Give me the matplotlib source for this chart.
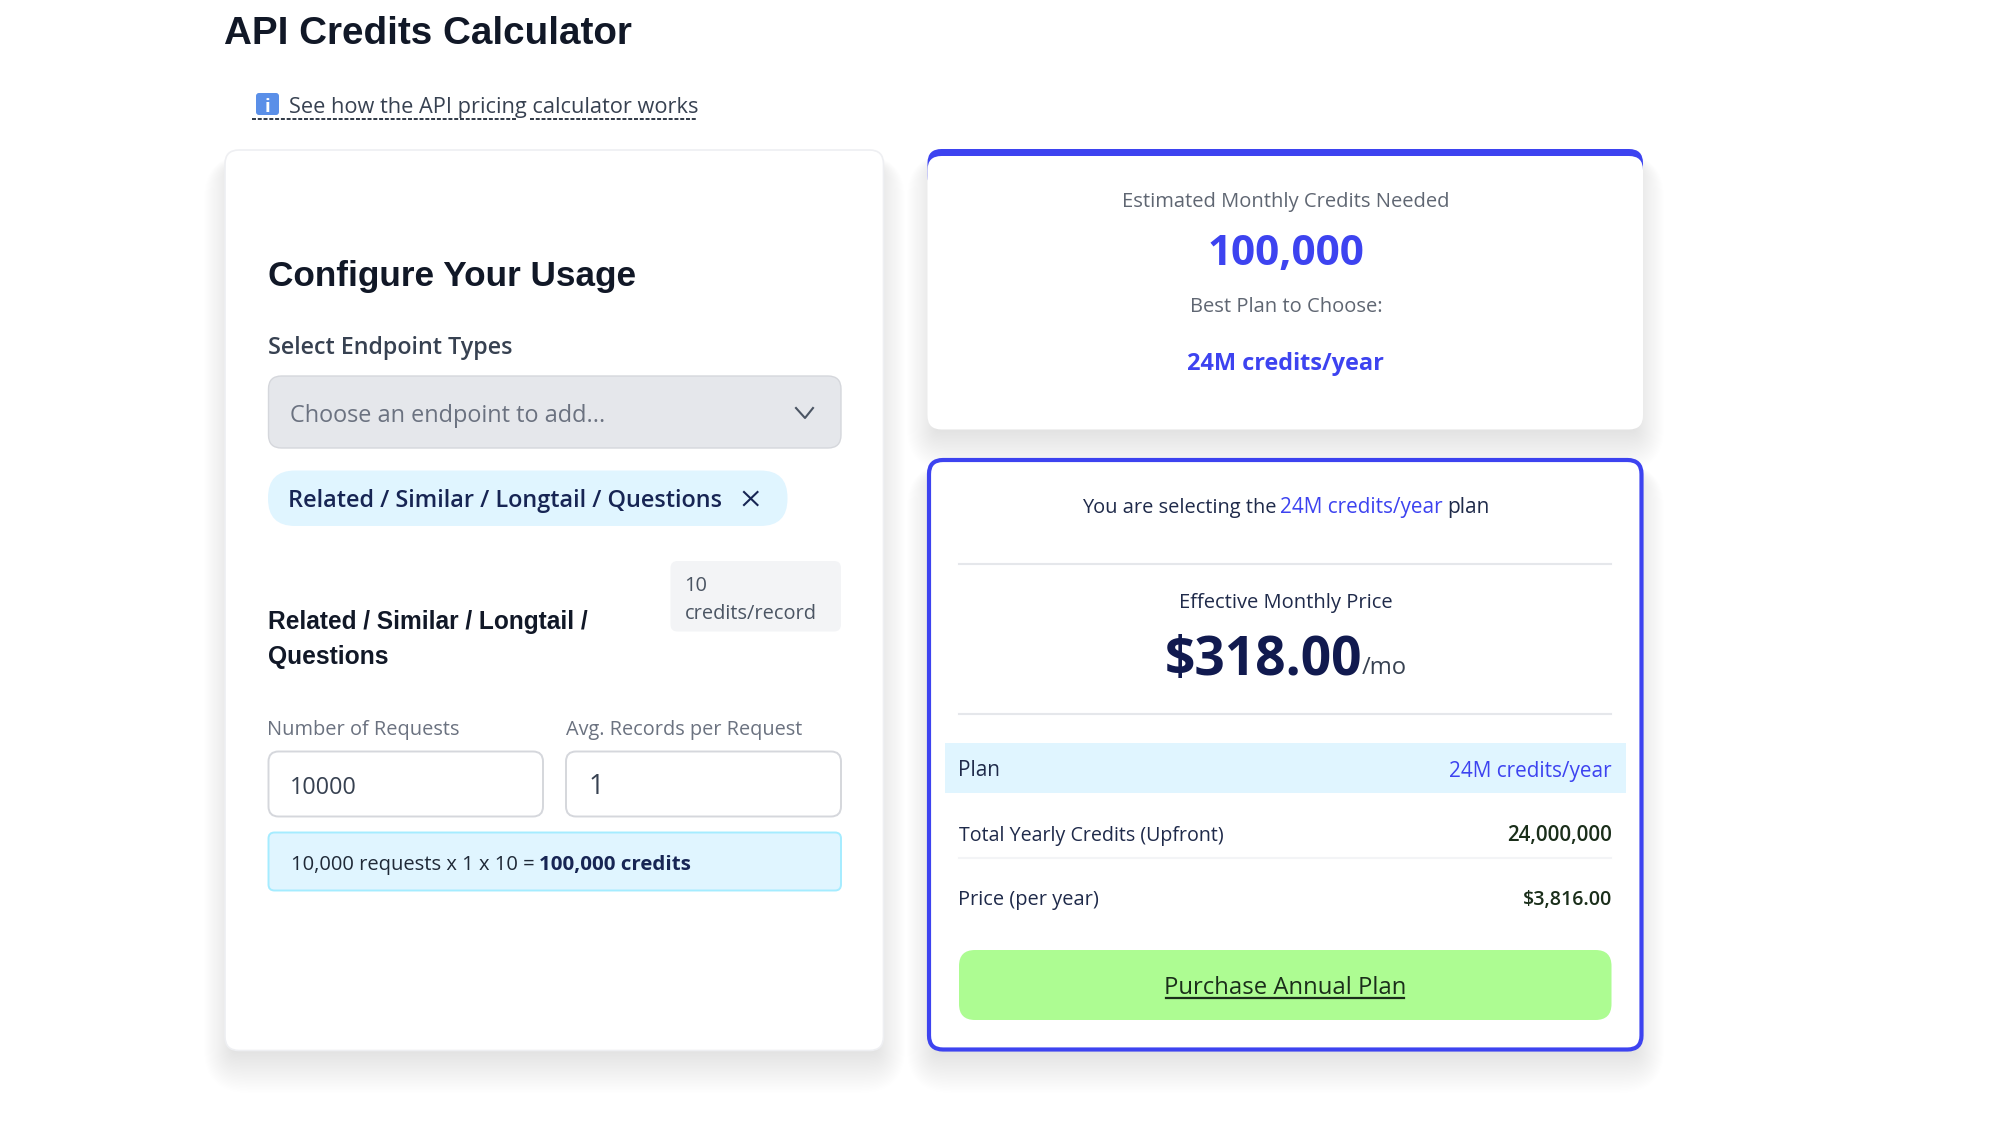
import matplotlib
matplotlib.use("Agg")
import matplotlib.pyplot as plt
from matplotlib.patches import FancyBboxPatch, Rectangle
from matplotlib.font_manager import FontProperties
from matplotlib.textpath import TextPath

# texts and values shown on the page
page_title = "API Credits Calculator"
help_link = "See how the API pricing calculator works"
config_title = "Configure Your Usage"
select_label = "Select Endpoint Types"
select_placeholder = "Choose an endpoint to add..."
endpoint_name = "Related / Similar / Longtail / Questions"
endpoint_lines = ["Related / Similar / Longtail /", "Questions"]
badge_lines = ["10", "credits/record"]
input_labels = ["Number of Requests", "Avg. Records per Request"]
input_values = ["10000", "1"]
calc_text = "10,000 requests x 1 x 10 ="
calc_result = "100,000 credits"
estimate_label = "Estimated Monthly Credits Needed"
estimate_value = "100,000"
best_label = "Best Plan to Choose:"
plan_name = "24M credits/year"
price_label = "Effective Monthly Price"
price_value = "$318.00"
price_unit = "/mo"
row_labels = ["Plan", "Total Yearly Credits (Upfront)", "Price (per year)"]
row_values = [plan_name, "24,000,000", "$3,816.00"]
button_text = "Purchase Annual Plan"

BLUE = "#3d43f0"
NAVY = "#111a4f"
SKY = "#e0f5ff"
BODY = "Open Sans"
HEAD = "Liberation Sans"

fig = plt.figure(figsize=(19.99, 11.37), dpi=100, facecolor="white")
ax = fig.add_axes([0, 0, 1, 1])
ax.set_xlim(0, 1999)
ax.set_ylim(1137, 0)
ax.axis("off")


def box(x0, y0, x1, y1, r, fc, ec="none", lw=0, alpha=None, z=2):
    p = FancyBboxPatch((x0, y0), x1 - x0, y1 - y0, boxstyle=f"round,pad=0,rounding_size={r}",
                       fc=fc, ec=ec, lw=lw, alpha=alpha, zorder=z)
    ax.add_patch(p)


def shadow(x0, y0, x1, y1):
    # soft drop shadow, stacked see-through boxes
    for i in range(30):
        grow = 30 - i * 1.5
        box(x0 - grow * 0.7, y0 + 14 - grow * 0.3, x1 + grow * 0.7, y1 + 12 + grow, 14 + grow, "#1f2937",
            alpha=0.003, z=1)


def label(x0, x1, y, s, color, family=BODY, weight="normal"):
    # font size is worked out so that the string fills the width
    prop = FontProperties(family=family, weight=weight)
    ext = TextPath((0, 0), s, size=100, prop=prop).get_extents()
    size = 100 * (x1 - x0) / ext.width
    ax.text(x0 - ext.x0 * size / 100, y, s, color=color, family=family, weight=weight,
            fontsize=size * 0.72, ha="left", va="baseline", zorder=5)


# title and help link
label(225, 631, 44, page_title, "#111827", HEAD, "bold")
box(256, 93, 279, 115, 3, "#5a8fe8")
label(266, 269, 112, "i", "white", BODY, "bold")
label(290.5, 697, 112.5, help_link, "#374151")
ax.plot([252, 517], [119, 119], color="#1f2937", lw=1.3, ls=(0, (2.2, 1)), zorder=5)
ax.plot([530, 697], [119, 119], color="#1f2937", lw=1.3, ls=(0, (2.2, 1)), zorder=5)

# left card
shadow(225, 150, 884, 1051)
box(225, 150, 883.5, 1050.5, 14, "white", "#eeeff2", 1.2)
label(269, 634, 286, config_title, "#111827", HEAD, "bold")
label(269, 512, 353.5, select_label, "#374151", BODY, "semibold")
box(268.5, 376, 841, 448, 13, "#e5e7eb", "#d5d7dc", 1.0)
label(291.5, 604, 421.5, select_placeholder, "#6b7280")
ax.plot([796, 805, 813], [408, 418, 408], color="#4b5563", lw=1.5, zorder=5)

box(268, 470.5, 787.5, 526, 27, SKY)
label(290.5, 721.5, 507, endpoint_name, "#172554", BODY, "semibold")
ax.plot([744, 757.5], [492, 505], color="#172554", lw=1.5, zorder=5)
ax.plot([744, 757.5], [505, 492], color="#172554", lw=1.5, zorder=5)

box(670.5, 561, 841, 631.5, 7, "#f3f4f6")
label(686, 706, 591, badge_lines[0], "#4b5563")
label(685.5, 814, 619, badge_lines[1], "#4b5563")
label(269.5, 588, 628.5, endpoint_lines[0], "#111827", HEAD, "bold")
label(269, 387.5, 664, endpoint_lines[1], "#111827", HEAD, "bold")

label(269, 458, 734.5, input_labels[0], "#6b7280")
label(566, 801, 734.5, input_labels[1], "#6b7280")
box(268.5, 751.5, 543, 816.5, 10, "white", "#d5d7dc", 1.4)
box(566, 751.5, 841, 816.5, 10, "white", "#d5d7dc", 1.4)
label(292.5, 356, 793.5, input_values[0], "#374151")
label(591, 598, 793.5, input_values[1], "#374151")

box(268.5, 832.5, 841, 890.5, 6, SKY, "#a5ecff", 1.4)
label(292.5, 532.5, 870, calc_text, "#1f2937")
label(540, 689, 870, calc_result, "#172554", BODY, "bold")

# estimate card
shadow(928, 149, 1643, 430)
box(927.5, 149, 1643, 190, 14, BLUE)
box(927.5, 156, 1643, 429.5, 14, "white")
label(1123.5, 1447, 206.5, estimate_label, "#5f6672")
label(1210, 1363, 265, estimate_value, BLUE, BODY, "bold")
label(1191.5, 1380, 312, best_label, "#5f6672")
label(1188, 1383.5, 369.5, plan_name, BLUE, BODY, "bold")

# plan card
shadow(928, 459, 1643, 1051)
box(929, 460, 1641.5, 1049.5, 14, "white", BLUE, 3)
label(1082, 1275, 512.5, "You are selecting the", "#1f2a4a")
label(1281, 1442.5, 512.5, plan_name, BLUE)
label(1449, 1488, 512.5, "plan", "#1f2a4a")
ax.plot([959, 1611], [563.5, 563.5], color="#e5e7eb", lw=1.5, zorder=3)
label(1180.5, 1391, 608, price_label, "#1f2a4a")
label(1167, 1360.5, 675, price_value, NAVY, BODY, "bold")
label(1362, 1405.5, 674, price_unit, "#374151")
ax.plot([959, 1611], [714, 714], color="#e5e7eb", lw=1.5, zorder=3)

ax.add_patch(Rectangle((945, 743), 681, 50, fc=SKY, ec="none", zorder=3))
label(960, 998, 776, row_labels[0], "#1f2a4a")
label(1450.5, 1612, 776.5, row_values[0], BLUE)
label(959.5, 1223.5, 840.5, row_labels[1], "#1f2a4a")
label(1508, 1611, 840.5, row_values[1], "#1a2e1a", BODY, "semibold")
ax.plot([959, 1611], [858, 858], color="#f3f4f6", lw=1.5, zorder=3)
label(960, 1097.5, 905.5, row_labels[2], "#1f2a4a")
label(1524, 1611, 905.5, row_values[2], "#1a2e1a", BODY, "semibold")

box(959, 950, 1611.5, 1020, 16, "#adfc92", z=3)
label(1166, 1404, 994, button_text, "#1a2e1a", BODY, "normal")
ax.plot([1166, 1404], [997.5, 997.5], color="#1a2e1a", lw=1.6, zorder=5)

fig.savefig("out.png", dpi=100, facecolor="white")
